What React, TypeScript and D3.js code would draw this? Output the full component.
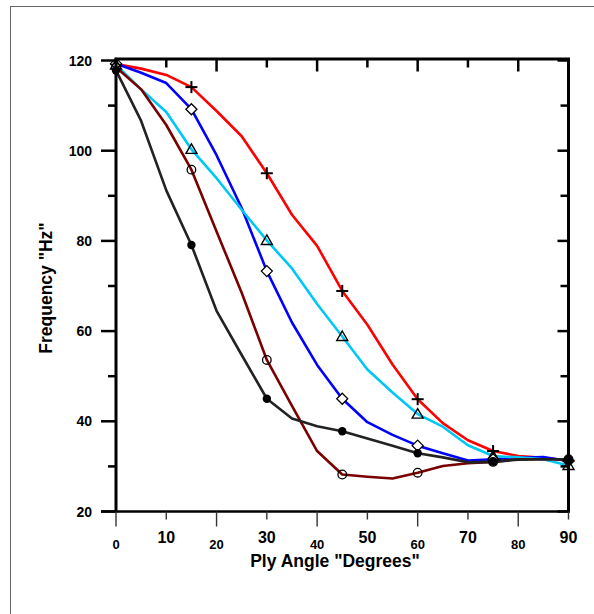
import React from "react";
import * as d3 from "d3";

const angles = [0, 5, 10, 15, 20, 25, 30, 35, 40, 45, 50, 55, 60, 65, 70, 75, 80, 85, 90];
const markerAngles = [0, 15, 30, 45, 60, 75, 90];

const redValues = [119.2, 118.2, 116.8, 114.1, 108.8, 103.2, 95.0, 85.8, 78.9, 68.9, 61.4, 52.6, 44.9, 39.6, 35.8, 33.4, 32.3, 31.9, 31.3];
const blueValues = [119.3, 117.3, 115.0, 109.2, 99.0, 87.3, 73.3, 61.9, 52.5, 45.0, 39.8, 37.0, 34.6, 32.9, 31.3, 31.6, 31.9, 32.1, 31.2];
const cyanValues = [119.0, 113.6, 108.6, 100.3, 93.9, 86.9, 80.1, 73.9, 66.0, 58.8, 51.5, 46.4, 41.6, 38.8, 34.7, 32.3, 32.0, 31.6, 30.2];
const brownValues = [118.5, 113.6, 105.7, 95.8, 82.1, 68.5, 53.6, 43.4, 33.4, 28.2, 27.7, 27.3, 28.6, 30.1, 30.7, 31.0, 31.6, 31.6, 31.6];
const blackValues = [117.8, 106.6, 91.2, 79.1, 64.5, 54.7, 45.0, 40.6, 38.9, 37.8, 36.2, 34.6, 32.9, 32.0, 30.9, 31.0, 31.5, 31.6, 31.6];

const xTicks = [0, 10, 20, 30, 40, 50, 60, 70, 80, 90];
const xMinorTicks = [5, 15, 25, 35, 45, 55, 65, 75, 85];
const yMajorTicks = [20, 40, 60, 80, 100, 120];
const yMinorTicks = [30, 50, 70, 90, 110];

const xTitle = 'Ply Angle "Degrees"';
const yTitle = 'Frequency "Hz"';

type Series = { values: number[]; color: string; marker: string };
const seriesList: Series[] = [
  { values: redValues, color: "#ff0000", marker: "plus" },
  { values: blueValues, color: "#0000ff", marker: "diamond" },
  { values: cyanValues, color: "#00c8f5", marker: "triangle" },
  { values: brownValues, color: "#7a0000", marker: "circle" },
  { values: blackValues, color: "#222222", marker: "dot" },
];

const FONT = "'Liberation Sans', Arial, Helvetica, sans-serif";

export default function App() {
  const x = d3.scaleLinear().domain([0, 90]).range([116, 568.5]);
  const y = d3.scaleLinear().domain([20, 120]).range([511.5, 60.5]);
  const line = d3
    .line<number>()
    .x((_, i) => x(angles[i]))
    .y((d) => y(d));

  const renderMarker = (type: string, cx: number, cy: number, key: string) => {
    switch (type) {
      case "plus":
        return (
          <g key={key} stroke="#000" strokeWidth={2}>
            <line x1={cx - 6} x2={cx + 6} y1={cy} y2={cy} />
            <line x1={cx} x2={cx} y1={cy - 6} y2={cy + 6} />
          </g>
        );
      case "diamond":
        return (
          <path
            key={key}
            d={`M${cx},${cy - 5.5}L${cx + 5.5},${cy}L${cx},${cy + 5.5}L${cx - 5.5},${cy}Z`}
            fill="#fff"
            stroke="#000"
            strokeWidth={1.3}
          />
        );
      case "triangle":
        return (
          <path
            key={key}
            d={`M${cx},${cy - 5.5}L${cx + 5.5},${cy + 4}L${cx - 5.5},${cy + 4}Z`}
            fill="none"
            stroke="#000"
            strokeWidth={1.4}
          />
        );
      case "circle":
        return <circle key={key} cx={cx} cy={cy} r={4.3} fill="none" stroke="#000" strokeWidth={1.3} />;
      default:
        return <circle key={key} cx={cx} cy={cy} r={4.2} fill="#000" />;
    }
  };

  return (
    <svg
      width={594}
      height={614}
      style={{ position: "absolute", left: 0, top: 0, background: "#fff" }}
      fontFamily={FONT}
    >
      <rect x={10.5} y={6.5} width={700} height={700} fill="none" stroke="#666" strokeWidth={1} />

      {/* series lines */}
      {seriesList.map((s, si) => (
        <path
          key={`l${si}`}
          d={line(s.values) || ""}
          fill="none"
          stroke={s.color}
          strokeWidth={2.6}
          strokeLinejoin="round"
        />
      ))}

      {/* markers */}
      {seriesList.map((s, si) =>
        markerAngles.map((a) => {
          const idx = angles.indexOf(a);
          return renderMarker(s.marker, x(a), y(s.values[idx]), `m${si}-${a}`);
        })
      )}

      {/* axes frame */}
      <line x1={x(0)} x2={x(0)} y1={y(120) - 1.5} y2={y(20) + 1} stroke="#000" strokeWidth={3} />
      <line x1={x(90)} x2={x(90)} y1={y(120) - 1.5} y2={y(20) + 1} stroke="#000" strokeWidth={3} />
      <line x1={x(0) - 1.5} x2={x(90) + 1.5} y1={y(120) - 1.5} y2={y(120) - 1.5} stroke="#000" strokeWidth={3} />
      <line x1={x(0) - 15} x2={x(90) + 1.5} y1={y(20)} y2={y(20)} stroke="#000" strokeWidth={2.5} />

      {/* left y ticks */}
      {yMajorTicks.map((t) => (
        <line key={`ly${t}`} x1={x(0) - 15} x2={x(0)} y1={y(t)} y2={y(t)} stroke="#000" strokeWidth={2.5} />
      ))}
      {yMinorTicks.map((t) => (
        <line key={`lym${t}`} x1={x(0) - 8} x2={x(0)} y1={y(t)} y2={y(t)} stroke="#000" strokeWidth={2.5} />
      ))}
      {/* right y ticks */}
      {yMajorTicks.map((t) => (
        <line key={`ry${t}`} x1={x(90) - 11} x2={x(90)} y1={y(t)} y2={y(t)} stroke="#000" strokeWidth={2.5} />
      ))}
      {yMinorTicks.map((t) => (
        <line key={`rym${t}`} x1={x(90) - 8} x2={x(90)} y1={y(t)} y2={y(t)} stroke="#000" strokeWidth={2.5} />
      ))}
      {/* top ticks */}
      {xTicks.map((t, i) => (
        <line
          key={`tx${t}`}
          x1={x(t)}
          x2={x(t)}
          y1={y(120) - 1.5}
          y2={y(120) + (i % 2 === 0 ? 11 : 7)}
          stroke="#000"
          strokeWidth={2.5}
        />
      ))}
      {/* bottom ticks */}
      {xTicks.map((t, i) => (
        <line
          key={`bx${t}`}
          x1={x(t)}
          x2={x(t)}
          y1={y(20)}
          y2={y(20) + (i % 2 === 0 ? 15 : 8)}
          stroke="#333"
          strokeWidth={1.4}
        />
      ))}
      {xMinorTicks.length > 0 && null}

      {/* y labels */}
      {yMajorTicks.map((t) => (
        <text
          key={`yl${t}`}
          x={92}
          y={y(t)}
          dy="0.36em"
          textAnchor="end"
          fontSize={14}
          fontWeight="bold"
          fill="#000"
        >
          {t}
        </text>
      ))}
      {/* x labels */}
      {xTicks.map((t, i) => (
        <text
          key={`xl${t}`}
          x={x(t)}
          y={i % 2 === 0 ? 548.5 : 542.5}
          textAnchor="middle"
          fontSize={i % 2 === 0 ? 13 : 16}
          fontWeight="bold"
          fill="#000"
        >
          {t}
        </text>
      ))}

      <text x={335} y={567} textAnchor="middle" fontSize={17.5} fontWeight="bold" fill="#000">
        {xTitle}
      </text>
      <text
        transform="translate(52,288) rotate(-90)"
        textAnchor="middle"
        fontSize={17.5}
        fontWeight="bold"
        fill="#000"
      >
        {yTitle}
      </text>
    </svg>
  );
}
